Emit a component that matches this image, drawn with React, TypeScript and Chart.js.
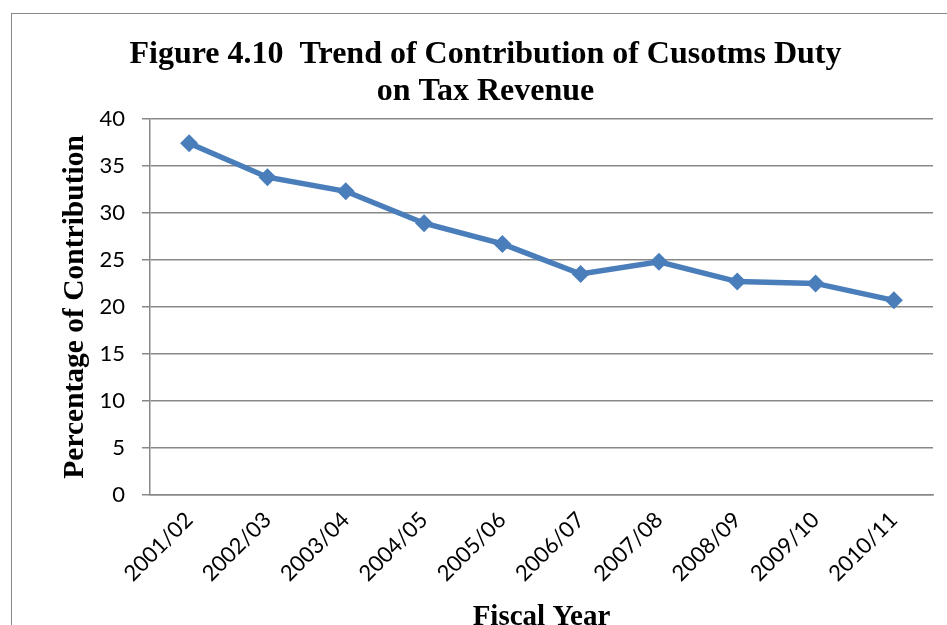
import React, { useEffect, useRef } from 'react';
import { Chart, registerables } from 'chart.js';

Chart.register(...registerables);

const categories = ['2001/02', '2002/03', '2003/04', '2004/05', '2005/06', '2006/07', '2007/08', '2008/09', '2009/10', '2010/11'];
const contribution = [37.4, 33.8, 32.3, 28.9, 26.7, 23.5, 24.8, 22.7, 22.5, 20.7];
const yMin = 0;
const yMax = 40;
const yStep = 5;
const titleLines = ['Figure 4.10  Trend of Contribution of Cusotms Duty', 'on Tax Revenue'];
const yTitle = 'Percentage of Contribution';
const xTitle = 'Fiscal Year';

const W = 947;
const H = 625;

export default function App() {
  const ref = useRef<HTMLCanvasElement | null>(null);

  useEffect(() => {
    document.body.style.margin = '0';
    const canvas = ref.current;
    if (!canvas) return;
    const chart = new Chart(canvas, {
      type: 'line',
      data: {
        labels: categories,
        datasets: [
          {
            label: 'Contribution',
            data: contribution,
            borderColor: '#4A7EBB',
            backgroundColor: '#4A7EBB',
            borderWidth: 5.5,
            pointStyle: 'rectRot',
            pointRadius: 9,
            pointBorderWidth: 0,
            pointBackgroundColor: '#4A7EBB',
            tension: 0,
          },
        ],
      },
      options: {
        responsive: false,
        animation: false,
        layout: { padding: { left: 38, right: 14, top: 0, bottom: 0 } },
        plugins: {
          legend: { display: false },
          tooltip: { enabled: false },
          title: {
            display: true,
            text: titleLines,
            color: '#000',
            font: { family: '"Liberation Serif", "Times New Roman", serif', size: 32, weight: 'bold', lineHeight: 1.17 },
            padding: { top: 36, bottom: 8 },
          },
        },
        scales: {
          x: {
            offset: true,
            grid: { display: false, drawTicks: false },
            border: { display: true, color: '#888', width: 1.5 },
            ticks: {
              color: '#000',
              font: { family: 'Lato, "Open Sans", sans-serif', size: 22 },
              minRotation: 45,
              maxRotation: 45,
              padding: 12,
              autoSkip: false,
            },
            title: {
              display: true,
              text: xTitle,
              color: '#000',
              font: { family: '"Liberation Serif", "Times New Roman", serif', size: 29, weight: 'bold', lineHeight: 1.2 },
              padding: { top: 0, bottom: -10 },
            },
            afterFit: (scale: any) => {
              scale.height = 130;
            },
          },
          y: {
            min: yMin,
            max: yMax,
            ticks: {
              stepSize: yStep,
              color: '#000',
              font: { family: 'Lato, "Open Sans", sans-serif', size: 22 },
              padding: 17,
            },
            grid: { color: '#888', lineWidth: 1.5, drawTicks: true, tickLength: 8 },
            border: { display: true, color: '#888', width: 1.5 },
            title: {
              display: true,
              text: yTitle,
              color: '#000',
              font: { family: '"Liberation Serif", "Times New Roman", serif', size: 29.5, weight: 'bold', lineHeight: 1.2 },
              padding: { top: 20, bottom: 0 },
            },
            afterFit: (scale: any) => {
              scale.width = 112;
            },
          },
        },
      },
    });
    return () => chart.destroy();
  }, []);

  return (
    <div style={{ position: 'relative', width: W, height: H, overflow: 'hidden', background: '#fff' }}>
      <div
        style={{
          position: 'absolute',
          left: 11,
          top: 13,
          width: 2000,
          height: 2000,
          borderLeft: '1.5px solid #888',
          borderTop: '1.5px solid #888',
        }}
      />
      <canvas ref={ref} width={W} height={H} style={{ position: 'absolute', left: 0, top: 0 }} />
    </div>
  );
}
